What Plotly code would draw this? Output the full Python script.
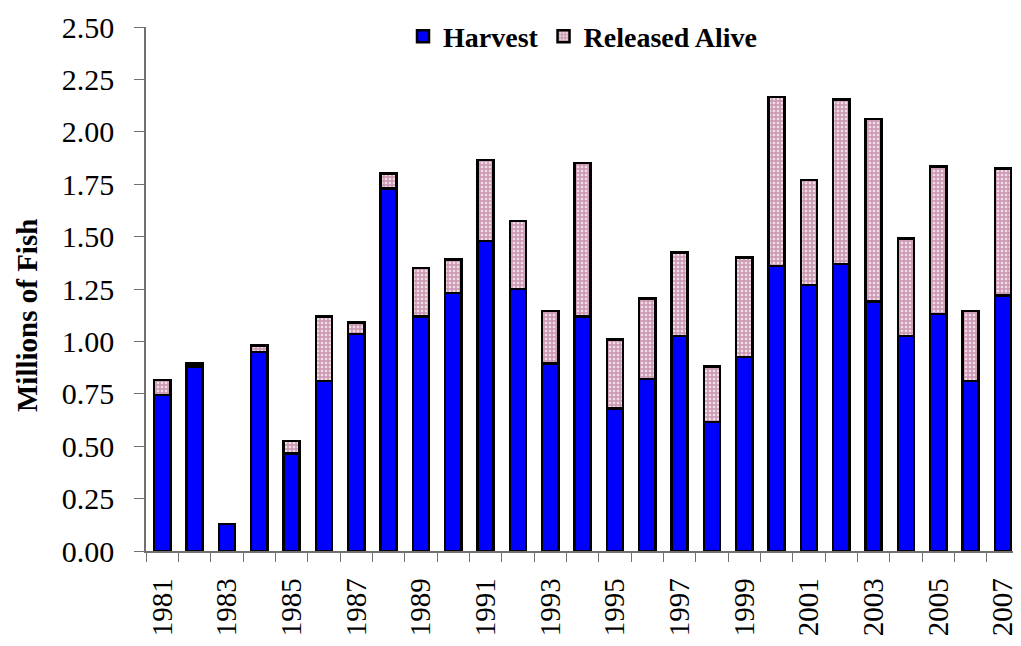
import plotly.graph_objects as go

years = list(range(1981, 2008))
harvest = [0.745, 0.88, 0.13, 0.95, 0.465, 0.81, 1.035, 1.73, 1.12, 1.23,
           1.48, 1.25, 0.895, 1.12, 0.68, 0.82, 1.025, 0.615, 0.925, 1.36,
           1.27, 1.37, 1.19, 1.025, 1.13, 0.81, 1.22]
total = [0.815, 0.895, 0.13, 0.98, 0.525, 1.12, 1.09, 1.80, 1.35, 1.39,
         1.865, 1.575, 1.145, 1.85, 1.01, 1.205, 1.425, 0.88, 1.40, 2.165,
         1.77, 2.155, 2.06, 1.49, 1.835, 1.145, 1.825]
released = [round(t - h, 3) for t, h in zip(total, harvest)]
tick_years = list(range(1981, 2008, 2))
y_ticks = [0, 0.25, 0.5, 0.75, 1.0, 1.25, 1.5, 1.75, 2.0, 2.25, 2.5]

FONT = "Liberation Serif"
AXIS = "#707070"

fig = go.Figure()
fig.add_trace(go.Bar(
    x=years, y=harvest, name="Harvest",
    marker=dict(color="#0000ff", line=dict(color="black", width=2.5)),
))
fig.add_trace(go.Bar(
    x=years, y=released, name="Released Alive",
    marker=dict(color="#ecd0de", line=dict(color="black", width=2.5),
                pattern=dict(shape="+", fgcolor="#a04f78", bgcolor="#f1dbe6",
                             size=4, solidity=0.6)),
))

fig.update_layout(
    barmode="stack", bargap=0.5,
    width=1013, height=630,
    margin=dict(l=138, r=2, t=11, b=83),
    paper_bgcolor="white", plot_bgcolor="white",
    font=dict(family=FONT, color="black", size=30),
    showlegend=True,
    legend=dict(orientation="h", x=0.5, xanchor="center", y=0.982, yanchor="middle",
                font=dict(family=FONT, size=28, color="black", weight="bold"),
                bgcolor="rgba(0,0,0,0)", traceorder="normal", itemwidth=30),
    annotations=[dict(
        text="<b>Millions of Fish</b>", textangle=-90,
        xref="paper", yref="paper", x=-0.1365, y=0.45,
        xanchor="center", yanchor="middle", showarrow=False,
        font=dict(family=FONT, size=29, color="black"),
    )],
)
fig.update_xaxes(
    range=[1980.5, 2007.5], tickmode="array", tickvals=tick_years,
    ticktext=[str(y) for y in tick_years], tickangle=-90,
    tickfont=dict(family=FONT, size=29), ticks="", showgrid=False,
    ticklabelstandoff=14, ticklabeloverflow="allow",
    showline=True, linecolor=AXIS, linewidth=1.5,
    minor=dict(ticks="outside", ticklen=9, tick0=1980.5, dtick=1, tickcolor=AXIS, showgrid=False),
    zeroline=False,
)
fig.update_yaxes(
    range=[0, 2.5], tickmode="array", tickvals=y_ticks,
    ticktext=[f"{v:.2f}" for v in y_ticks],
    tickfont=dict(family=FONT, size=30), ticks="outside", ticklen=10, tickcolor=AXIS,
    ticklabelstandoff=14, ticklabeloverflow="allow",
    showgrid=False, showline=True, linecolor=AXIS, linewidth=1.5, zeroline=False,
)

fig.write_html("out.html")
